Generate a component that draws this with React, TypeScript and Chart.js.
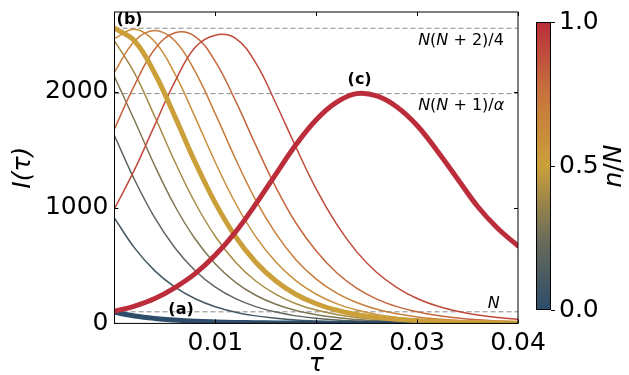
import React, { useEffect, useRef } from "react";
import { Chart, registerables } from "chart.js";

Chart.register(...registerables);

const FONT = '"DejaVu Sans", sans-serif';

// time grid (tau)
const TAU = [0, 0.002, 0.004, 0.006, 0.008, 0.01, 0.012, 0.014, 0.016, 0.018, 0.02,
  0.022, 0.024, 0.026, 0.028, 0.03, 0.032, 0.034, 0.036, 0.038, 0.04];

// intensity curves, labelled by n/N
const I_N01 = [96, 64, 43, 29, 19, 13, 8.6, 5.7, 3.8, 2.5, 1.7, 1.1, 0.8, 0.5, 0.3, 0.2, 0.15, 0.1, 0.07, 0.05, 0.03];
const I_N10 = [910, 650, 454, 313, 213, 144, 97, 65, 44, 29, 20, 13, 8.8, 5.9, 3.9, 2.6, 1.7, 1.2, 0.8, 0.5, 0.35];
const I_N20 = [1620, 1239, 911, 651, 455, 313, 214, 145, 98, 65, 44, 29, 20, 13, 8.8, 5.9, 3.9, 2.6, 1.7, 1.2, 0.8];
const I_N30 = [2130, 1751, 1361, 1012, 729, 513, 355, 243, 165, 111, 75, 50, 34, 22, 15, 10, 6.7, 4.5, 3, 2, 1.3];
const I_N40 = [2440, 2160, 1785, 1394, 1040, 751, 529, 366, 251, 170, 115, 77, 51, 35, 23, 15.6, 10.4, 7, 4.6, 3.1, 2.1];
const I_N50 = [2550, 2439, 2159, 1784, 1392, 1039, 749, 528, 366, 250, 170, 115, 77, 52, 35, 23, 15.6, 10.4, 6.9, 4.6, 3.1];
const I_N60 = [2460, 2540, 2432, 2153, 1780, 1390, 1038, 750, 530, 367, 252, 171, 116, 78, 52, 35, 23.5, 15.7, 10.5, 7, 4.7];
const I_N70 = [2170, 2440, 2530, 2440, 2175, 1810, 1420, 1065, 775, 548, 383, 263, 180, 122, 83, 56, 38, 25, 17, 11, 7.5];
const I_N80 = [1680, 2060, 2370, 2510, 2478, 2262, 1922, 1540, 1175, 865, 625, 440, 305, 210, 145, 100, 68, 46, 31, 21, 14];
const I_N90 = [990, 1330, 1715, 2090, 2385, 2490, 2462, 2250, 1900, 1520, 1160, 860, 620, 440, 310, 215, 150, 105, 72, 50, 35];
const I_N100 = [105, 150, 215, 310, 430, 590, 790, 1030, 1290, 1545, 1760, 1910, 1985, 1965, 1870, 1710, 1490, 1250, 1010, 820, 670];

// reference levels
const LEVEL_HALF = 2550;   // N(N+2)/4
const LEVEL_ALPHA = 1985;  // N(N+1)/alpha
const LEVEL_N = 100;       // N

const X_MIN = 0;
const X_MAX = 0.04;
const Y_MIN = 0;
const Y_MAX = 2690;
const X_TICKS = [0.01, 0.02, 0.03, 0.04];
const Y_TICKS = [0, 1000, 2000];
const CB_TICKS = [0, 0.5, 1];

const CMAP: [number, number[]][] = [
  [0, [43, 76, 107]],
  [0.25, [108, 108, 88]],
  [0.5, [203, 160, 58]],
  [0.75, [199, 116, 60]],
  [1, [187, 45, 58]],
];

function cmap(t: number): string {
  for (let i = 0; i < CMAP.length - 1; i++) {
    const [t0, c0] = CMAP[i];
    const [t1, c1] = CMAP[i + 1];
    if (t >= t0 && t <= t1) {
      const f = (t - t0) / (t1 - t0);
      const c = c0.map((v, k) => Math.round(v + (c1[k] - v) * f));
      return `rgb(${c[0]},${c[1]},${c[2]})`;
    }
  }
  const c = CMAP[CMAP.length - 1][1];
  return `rgb(${c[0]},${c[1]},${c[2]})`;
}

const SERIES: { frac: number; values: number[]; width: number }[] = [
  { frac: 1.0, values: I_N100, width: 5 },
  { frac: 0.5, values: I_N50, width: 5 },
  { frac: 0.01, values: I_N01, width: 5 },
  { frac: 0.9, values: I_N90, width: 1.5 },
  { frac: 0.8, values: I_N80, width: 1.5 },
  { frac: 0.7, values: I_N70, width: 1.5 },
  { frac: 0.6, values: I_N60, width: 1.5 },
  { frac: 0.4, values: I_N40, width: 1.5 },
  { frac: 0.3, values: I_N30, width: 1.5 },
  { frac: 0.2, values: I_N20, width: 1.5 },
  { frac: 0.1, values: I_N10, width: 1.5 },
];

type Seg = [string, boolean, boolean?];

function drawRich(ctx: CanvasRenderingContext2D, segs: Seg[], x: number, y: number, size: number, align: "left" | "center") {
  const fontOf = (it: boolean, b?: boolean) => `${it ? "italic " : ""}${b ? "bold " : ""}${size}px ${FONT}`;
  let total = 0;
  for (const [t, it, b] of segs) {
    ctx.font = fontOf(it, b);
    total += ctx.measureText(t).width;
  }
  let cx = align === "center" ? x - total / 2 : x;
  ctx.textBaseline = "middle";
  ctx.textAlign = "left";
  for (const [t, it, b] of segs) {
    ctx.font = fontOf(it, b);
    ctx.fillText(t, cx, y);
    cx += ctx.measureText(t).width;
  }
}

const decorPlugin = {
  id: "decor",
  afterDraw(chart: any) {
    const ctx: CanvasRenderingContext2D = chart.ctx;
    const xs = chart.scales.x;
    const ys = chart.scales.y;
    const a = chart.chartArea;
    ctx.save();
    // frame
    ctx.strokeStyle = "#000";
    ctx.lineWidth = 1;
    ctx.strokeRect(a.left, a.top, a.right - a.left, a.bottom - a.top);
    // inward ticks
    ctx.beginPath();
    for (const v of X_TICKS) {
      const px = Math.round(xs.getPixelForValue(v)) + 0.5;
      ctx.moveTo(px, a.bottom); ctx.lineTo(px, a.bottom - 4);
      ctx.moveTo(px, a.top); ctx.lineTo(px, a.top + 4);
    }
    for (const v of Y_TICKS) {
      const py = Math.round(ys.getPixelForValue(v)) + 0.5;
      ctx.moveTo(a.left, py); ctx.lineTo(a.left + 4, py);
      ctx.moveTo(a.right, py); ctx.lineTo(a.right - 4, py);
    }
    ctx.stroke();

    // annotations
    ctx.fillStyle = "#000";
    const P = (x: number, y: number) => [xs.getPixelForValue(x), ys.getPixelForValue(y)];
    let [px, py] = P(0.0015, 2625);
    drawRich(ctx, [["(b)", false, true]], px, py, 16, "center");
    [px, py] = P(0.0066, 120);
    drawRich(ctx, [["(a)", false, true]], px, py, 16, "center");
    [px, py] = P(0.0243, 2100);
    drawRich(ctx, [["(c)", false, true]], px, py, 16, "center");
    [px, py] = P(0.0301, 2445);
    drawRich(ctx, [["N", true], ["(", false], ["N", true], [" + 2)/4", false]], px, py, 16, "left");
    [px, py] = P(0.0301, 1880);
    drawRich(ctx, [["N", true], ["(", false], ["N", true], [" + 1)/", false], ["α", true]], px, py, 16, "left");
    [px, py] = P(0.0376, 172);
    drawRich(ctx, [["N", true]], px, py, 16, "center");

    // colorbar
    const cb = { x: 536, y: 22, w: 15, h: 288 };
    const grad = ctx.createLinearGradient(0, cb.y + cb.h, 0, cb.y);
    for (const [t, c] of CMAP) grad.addColorStop(t, `rgb(${c[0]},${c[1]},${c[2]})`);
    ctx.fillStyle = grad;
    ctx.fillRect(cb.x, cb.y, cb.w, cb.h);
    ctx.strokeStyle = "#000";
    ctx.lineWidth = 1;
    ctx.strokeRect(cb.x + 0.5, cb.y + 0.5, cb.w - 1, cb.h - 1);
    ctx.fillStyle = "#000";
    ctx.beginPath();
    for (const v of CB_TICKS) {
      const ty = Math.round(cb.y + cb.h - v * cb.h) + 0.5;
      ctx.moveTo(cb.x + cb.w, ty); ctx.lineTo(cb.x + cb.w + 4, ty);
    }
    ctx.stroke();
    ctx.font = `25px ${FONT}`;
    ctx.textAlign = "left";
    ctx.textBaseline = "middle";
    for (const v of CB_TICKS) {
      const ty = cb.y + cb.h - v * cb.h;
      ctx.fillText(v.toFixed(1), cb.x + cb.w + 8, ty);
    }
    // colorbar label (reads bottom to top)
    ctx.save();
    ctx.translate(614, 166);
    ctx.rotate(-Math.PI / 2);
    drawRich(ctx, [["n", true], ["/", false], ["N", true]], 0, 0, 25, "center");
    ctx.restore();
    ctx.restore();
  },
};

export default function App() {
  const ref = useRef<HTMLCanvasElement | null>(null);
  useEffect(() => {
    if (!ref.current) return;
    const datasets: any[] = SERIES.map((s) => ({
      data: TAU.map((t, i) => ({ x: t, y: s.values[i] })),
      borderColor: cmap(s.frac),
      borderWidth: s.width,
      pointRadius: 0,
      fill: false,
      clip: 0,
      tension: 0.4,
      borderCapStyle: "round",
      borderJoinStyle: "round",
    }));
    for (const lv of [LEVEL_HALF, LEVEL_ALPHA, LEVEL_N]) {
      datasets.push({
        data: [{ x: X_MIN, y: lv }, { x: X_MAX, y: lv }],
        borderColor: "#888",
        borderWidth: 1,
        borderDash: [5, 3],
        pointRadius: 0,
        fill: false,
        clip: 0,
      });
    }
    const chart = new Chart(ref.current, {
      type: "line",
      data: { datasets },
      options: {
        responsive: false,
        animation: false,
        layout: { padding: { left: 8, right: 111, top: 12, bottom: 0 } },
        plugins: { legend: { display: false }, tooltip: { enabled: false } },
        scales: {
          x: {
            type: "linear",
            min: X_MIN,
            max: X_MAX,
            grid: { display: false, drawTicks: false },
            border: { display: false },
            afterBuildTicks: (s: any) => { s.ticks = X_TICKS.map((v) => ({ value: v })); },
            afterFit: (s: any) => { s.height = 51.6; s.paddingLeft = 0; s.paddingRight = 0; },
            ticks: {
              color: "#000",
              font: { size: 25, family: FONT },
              padding: 5,
              maxRotation: 0,
              autoSkip: false,
              callback: (v: any) => Number(v).toFixed(2),
            },
            title: {
              display: true,
              text: "τ",
              color: "#000",
              font: { size: 25, style: "italic", family: FONT },
              padding: { top: 0, bottom: -4 },
            },
          },
          y: {
            type: "linear",
            min: Y_MIN,
            max: Y_MAX,
            grid: { display: false, drawTicks: false },
            border: { display: false },
            afterBuildTicks: (s: any) => { s.ticks = Y_TICKS.map((v) => ({ value: v })); },
            afterFit: (s: any) => { s.width = 106.5; s.paddingTop = 0; s.paddingBottom = 0; },
            ticks: {
              color: "#000",
              font: { size: 25, family: FONT },
              padding: 6,
              autoSkip: false,
              callback: (v: any) => String(v),
            },
            title: {
              display: true,
              text: "I(τ)",
              color: "#000",
              font: { size: 25, style: "italic", family: FONT },
              padding: { top: 0, bottom: 0 },
            },
          },
        },
      } as any,
      plugins: [decorPlugin],
    });
    return () => chart.destroy();
  }, []);
  return (
    <div style={{ position: "absolute", left: 0, top: 0, width: 629, height: 375, background: "#fff" }}>
      <canvas ref={ref} width={629} height={375} style={{ display: "block" }} />
    </div>
  );
}
